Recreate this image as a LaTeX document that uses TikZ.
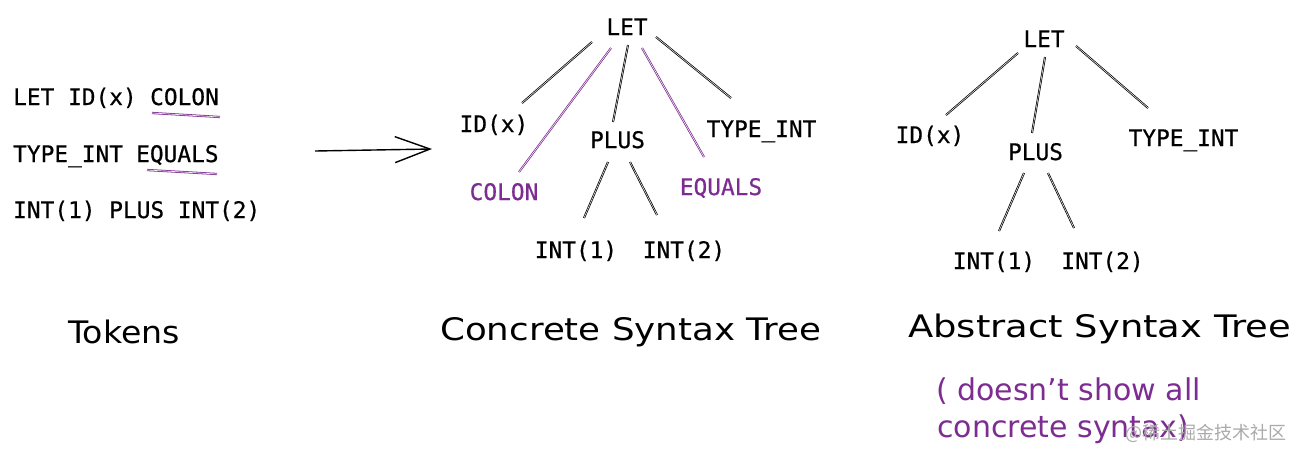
\documentclass[tikz,border=0pt]{standalone}
\usepackage{fontspec}
\setmainfont{DejaVu Sans}
\setmonofont{DejaVu Sans Mono}[FakeBold=0.6]
\newfontfamily\cjkfont{Noto Sans CJK SC}
\usetikzlibrary{arrows.meta}
\definecolor{lpurple}{RGB}{125,45,145}
\definecolor{wmgray}{RGB}{170,170,170}
\begin{document}
\begin{tikzpicture}[x=1pt,y=-1pt,
  tok/.style={font=\ttfamily\fontsize{22.8}{26}\selectfont, inner sep=0pt, anchor=base},
  tokw/.style={tok, anchor=base west},
  ptok/.style={tok, text=lpurple},
  title/.style={font=\fontsize{31}{34}\selectfont, inner sep=0pt, anchor=base west},
  note/.style={font=\fontsize{30}{33}\selectfont, inner sep=0pt, anchor=base west, text=lpurple},
  sk/.style={line width=0.75pt, double distance=0.5pt, double=white},
  psk/.style={sk, draw=lpurple},
  uline/.style={draw=lpurple, line width=0.8pt, double distance=0.6pt, double=white}]
\fill[white] (0,0) rectangle (1300,459);
\useasboundingbox (0,0) rectangle (1300,459);

% ---- Tokens ----
\node[tokw] (t1) at (13,105) {LET ID(x)};
\node[tokw] (tcolon) at (150,105) {COLON};
\node[tokw] (t2) at (13,162) {TYPE\_INT};
\node[tokw] (tequals) at (136,162) {EQUALS};
\node[tokw] (t3) at (13,218) {INT(1) PLUS INT(2)};
\draw[uline] ([shift={(2,8)}]tcolon.base west) -- ([shift={(70,12)}]tcolon.base west);
\draw[uline] ([shift={(11,8)}]tequals.base west) -- ([shift={(81,12)}]tequals.base west);

% ---- arrow ----
\coordinate (a1) at (315,151);
\coordinate (a2) at (432,149);
\draw[line width=1.4pt, -{Straight Barb[length=35pt,width=26pt,line width=1.4pt]}] (a1) -- (a2);

% ---- CST ----
\node[tok] (cLET) at (627,35) {LET};
\node[tok] (cID) at (494,132) {ID(x)};
\node[tok] (cPLUS) at (617.5,148) {PLUS};
\node[tok] (cTYPE) at (761.5,137) {TYPE\_INT};
\node[ptok] (cCOLON) at (504,200) {COLON};
\node[ptok] (cEQ) at (721,195) {EQUALS};
\node[tok] (cI1) at (576,258) {INT(1)};
\node[tok] (cI2) at (684,258) {INT(2)};
\draw[sk] ([shift={(-35,7)}]cLET.base) -- ([shift={(28,-29)}]cID.base);
\draw[psk] ([shift={(-16,13)}]cLET.base) -- ([shift={(15,-28)}]cCOLON.base);
\draw[sk] ([shift={(1,10)}]cLET.base) -- ([shift={(-4.5,-26)}]cPLUS.base);
\draw[psk] ([shift={(15,13)}]cLET.base) -- ([shift={(-17,-38)}]cEQ.base);
\draw[sk] ([shift={(29,2)}]cLET.base) -- ([shift={(-30.5,-39)}]cTYPE.base);
\draw[sk] ([shift={(-9.5,14)}]cPLUS.base) -- ([shift={(8,-40)}]cI1.base);
\draw[sk] ([shift={(12.5,14)}]cPLUS.base) -- ([shift={(-27,-43)}]cI2.base);

% ---- AST ----
\node[tok] (aLET) at (1044,47) {LET};
\node[tok] (aID) at (930,143) {ID(x)};
\node[tok] (aPLUS) at (1035.5,160) {PLUS};
\node[tok] (aTYPE) at (1183.5,146) {TYPE\_INT};
\node[tok] (aI1) at (994,269) {INT(1)};
\node[tok] (aI2) at (1102.5,269) {INT(2)};
\draw[sk] ([shift={(-26,6)}]aLET.base) -- ([shift={(16,-28)}]aID.base);
\draw[sk] ([shift={(1,10)}]aLET.base) -- ([shift={(-3.5,-27)}]aPLUS.base);
\draw[sk] ([shift={(32,-1)}]aLET.base) -- ([shift={(-35.5,-38)}]aTYPE.base);
\draw[sk] ([shift={(-11.5,13)}]aPLUS.base) -- ([shift={(5,-38)}]aI1.base);
\draw[sk] ([shift={(12.5,13)}]aPLUS.base) -- ([shift={(-28.5,-41)}]aI2.base);

% ---- titles ----
\node[title] (tTok) at (68,343) {\scalebox{1.07}[1]{Tokens}};
\node[title] (tCST) at (440,340) {\scalebox{1.15}[1]{Concrete Syntax Tree}};
\node[title] (tAST) at (908,337) {\scalebox{1.19}[1]{Abstract Syntax Tree}};
\node[note] (n1) at (936,400) {( doesn't show all};
\node[note] (n2) at (937,437) {concrete syntax)};
\node[font=\cjkfont\fontsize{18}{20}\selectfont, text=wmgray, inner sep=0pt, anchor=west] (wm) at (1125,433) {@稀土掘金技术社区};
\end{tikzpicture}
\end{document}
